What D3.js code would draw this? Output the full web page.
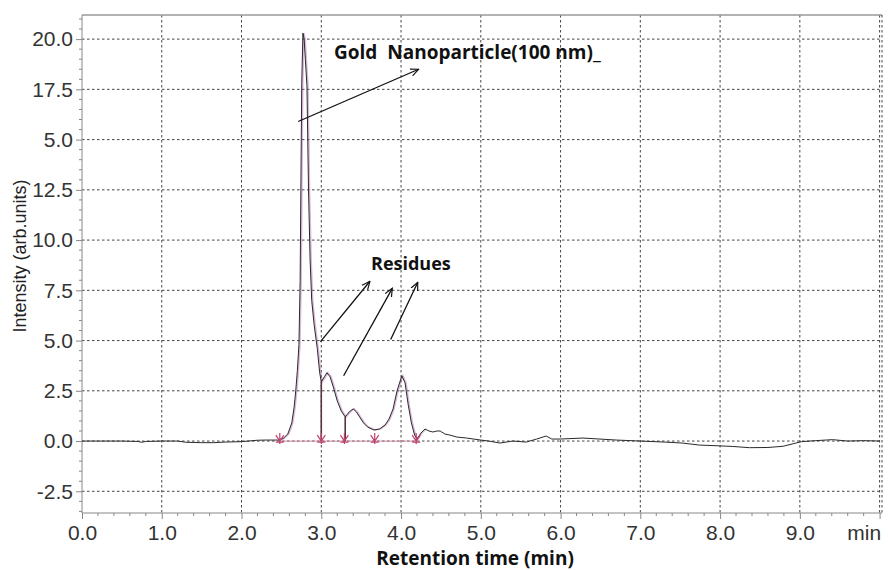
<!DOCTYPE html>
<html><head><meta charset="utf-8">
<script src="https://cdn.jsdelivr.net/npm/d3@7"></script>
<style>
html,body{margin:0;padding:0;background:#fff;}
svg{display:block;}
</style></head>
<body><svg id="c" width="888" height="570"></svg>
<script>
// ---- data ----
const times = [0,0.5,0.7,0.75,0.8,1.0,1.2,1.3,1.5,1.65,1.8,2.0,2.2,2.3,2.45,2.52,2.58,2.63,2.66,2.68,2.70,2.72,2.735,2.745,2.755,2.77,2.785,2.80,2.82,2.84,2.86,2.88,2.91,2.95,2.98,3.0,3.04,3.07,3.11,3.15,3.2,3.25,3.3,3.35,3.40,3.44,3.48,3.53,3.58,3.66,3.73,3.80,3.85,3.90,3.95,4.01,4.05,4.09,4.13,4.17,4.20,4.25,4.30,4.35,4.40,4.45,4.49,4.55,4.61,4.7,4.82,5.0,5.1,5.24,5.4,5.57,5.70,5.82,5.89,6.0,6.28,6.7,7.0,7.3,7.53,7.74,8.0,8.16,8.37,8.6,8.79,9.02,9.2,9.41,9.6,9.8,10.0];
const intensity = [0,0,-0.02,-0.06,-0.02,0,0,-0.06,-0.08,-0.08,-0.05,-0.03,0.04,0.05,0.05,0.12,0.35,0.9,1.7,2.5,3.5,4.8,8,13,17.8,20.3,20.0,19,17.7,12.5,9,7,5.8,4.6,3.4,2.95,3.2,3.4,3.2,2.7,2.0,1.5,1.2,1.45,1.6,1.45,1.2,0.9,0.7,0.55,0.6,0.8,1.1,1.6,2.5,3.25,2.9,1.8,0.9,0.3,0.1,0.4,0.6,0.5,0.45,0.5,0.5,0.35,0.3,0.2,0.15,0.05,0,-0.1,0,-0.05,0.1,0.25,0.1,0.1,0.15,0.05,0,-0.05,-0.1,-0.2,-0.24,-0.27,-0.33,-0.32,-0.26,-0.03,0.02,0.07,0,0.02,0];
const markerTimes = [2.48,3.0,3.29,3.67,4.19];
const dropLines = [3.0,3.3];
const yTicks = [-2.5,0,2.5,5,7.5,10,12.5,15,17.5,20];
const yTickLabels = ["-2.5","0.0","2.5","5.0","7.5","10.0","12.5","5.0","17.5","20.0"];
const xTicks = [0,1,2,3,4,5,6,7,8,9,10];
const xTickLabels = ["0.0","1.0","2.0","3.0","4.0","5.0","6.0","7.0","8.0","9.0","min"];
const xTitle = "Retention time (min)";
const yTitle = "Intensity (arb.units)";
const goldLabel = "Gold  Nanoparticle(100 nm)_";
const residueLabel = "Residues";

// ---- layout ----
const L=82, R=882, T=15, B=513;
const x = d3.scaleLinear().domain([0,10.03]).range([L,R]);
const y = d3.scaleLinear().domain([-3.58,21.2]).range([B,T]);
const svg = d3.select("#c");

// grid
const grid = svg.append("g");
grid.selectAll("line.h").data(yTicks).join("line")
  .attr("x1",L).attr("x2",R).attr("y1",d=>y(d)).attr("y2",d=>y(d))
  .attr("stroke","#444").attr("stroke-width",1).attr("stroke-dasharray","2.5,2.5");
grid.selectAll("line.v").data(xTicks.filter(d=>d>0)).join("line")
  .attr("x1",d=>x(d)).attr("x2",d=>x(d)).attr("y1",T).attr("y2",B)
  .attr("stroke","#444").attr("stroke-width",1).attr("stroke-dasharray","2.5,2.5");
// top border
svg.append("line").attr("x1",L).attr("x2",R).attr("y1",T).attr("y2",T).attr("stroke","#999").attr("stroke-width",1.5);
svg.append("line").attr("x1",R).attr("x2",R).attr("y1",T).attr("y2",B).attr("stroke","#444").attr("stroke-dasharray","2.5,2.5");

// axes
const font = "'Liberation Sans', Arial, sans-serif";
const yAxis = d3.axisLeft(y).tickValues(yTicks).tickFormat((d,i)=>yTickLabels[i]).tickSize(6).tickPadding(3);
const ga = svg.append("g").attr("transform",`translate(${L},0)`).call(yAxis);
ga.select(".domain").attr("stroke","#888").attr("d",`M0,${T}V${B}`);
ga.selectAll(".tick line").attr("stroke","#888");
ga.selectAll("text").attr("font-family",font).attr("font-size",21).attr("fill","#333");
const yMinor = d3.range(-3.5,21.01,0.5).filter(v=>Math.abs(v/2.5-Math.round(v/2.5))>1e-6);
svg.append("g").selectAll("line").data(yMinor).join("line")
  .attr("x1",L-3).attr("x2",L).attr("y1",d=>y(d)).attr("y2",d=>y(d)).attr("stroke","#888");

const xAxis = d3.axisBottom(x).tickValues(xTicks).tickFormat((d,i)=>xTickLabels[i]).tickSize(6).tickPadding(6);
const gb = svg.append("g").attr("transform",`translate(0,${B})`).call(xAxis);
gb.select(".domain").attr("stroke","#888").attr("d",`M${L},0H${R}`);
gb.selectAll(".tick line").attr("stroke","#888");
gb.selectAll("text").attr("font-family",font).attr("font-size",21).attr("fill","#333");
gb.selectAll(".tick").filter(d=>d===10).select("text").attr("text-anchor","end").attr("dx","1");
const xMinor = d3.range(0.2,10.0,0.2).filter(v=>Math.abs(v-Math.round(v))>1e-6);
svg.append("g").selectAll("line").data(xMinor).join("line")
  .attr("x1",d=>x(d)).attr("x2",d=>x(d)).attr("y1",B).attr("y2",B+3).attr("stroke","#888");

// titles
svg.append("text").attr("transform",`translate(26,256) rotate(-90)`).attr("text-anchor","middle")
  .attr("font-family",font).attr("font-size",18).attr("fill","#222").text(yTitle);
const bold = "'Open Sans', 'DejaVu Sans', sans-serif";
svg.append("text").attr("x",475).attr("y",565).attr("text-anchor","middle")
  .attr("font-family",bold).attr("font-weight","bold").attr("font-size",19).attr("fill","#111").text(xTitle);

// data
const data = times.map((t,i)=>({t,v:intensity[i]}));
const line = d3.line().x(d=>x(d.t)).y(d=>y(d.v));
svg.append("path").datum(data.filter(d=>d.t>=2.4&&d.t<=4.3)).attr("d",line)
  .attr("fill","none").attr("stroke","#b060a8").attr("stroke-width",1.6).attr("opacity",0.45)
  .attr("transform","translate(1,0)");
// pink baseline between markers
svg.append("line").attr("x1",x(markerTimes[0])).attr("x2",x(markerTimes[markerTimes.length-1]))
  .attr("y1",y(0)).attr("y2",y(0)).attr("stroke","#d080a0").attr("stroke-width",1.2).attr("opacity",0.7);
svg.append("path").datum(data).attr("d",line).attr("fill","none").attr("stroke","#2a2a2a").attr("stroke-width",1);

// drop lines
const interp = t=>{const i=d3.bisector(d=>d.t).left(data,t);const a=data[Math.max(0,i-1)],b=data[i];if(!a||b.t===a.t)return b.v;return a.v+(b.v-a.v)*(t-a.t)/(b.t-a.t);};
svg.append("g").selectAll("line").data(dropLines).join("line")
  .attr("x1",d=>x(d)).attr("x2",d=>x(d)).attr("y1",d=>y(interp(d))).attr("y2",y(0))
  .attr("stroke","#553344").attr("stroke-width",1.6);
// markers
const mk = svg.append("g").attr("stroke","#c04070").attr("stroke-width",1.2).attr("fill","none");
markerTimes.forEach(t=>{
  const cx=x(t), cy=y(0);
  mk.append("path").attr("d",`M${cx-4},${cy-6}L${cx},${cy}L${cx+4},${cy-6}M${cx-4},${cy+1}L${cx+4},${cy+1}M${cx},${cy-8}V${cy+3}`);
});

// annotations
const defs = svg.append("defs");
defs.append("marker").attr("id","ah").attr("viewBox","0 0 10 10").attr("refX",9).attr("refY",5)
  .attr("markerWidth",9).attr("markerHeight",9).attr("orient","auto-start-reverse").attr("markerUnits","userSpaceOnUse")
  .append("path").attr("d","M0,1L9,5L0,9").attr("fill","none").attr("stroke","#111").attr("stroke-width",1.3);
const arrows = [[2.71,15.9,4.22,18.5],[2.99,4.95,3.61,7.95],[3.28,3.25,3.89,7.6],[3.87,5.05,4.21,7.9]];
svg.append("g").selectAll("line").data(arrows).join("line")
  .attr("x1",d=>x(d[0])).attr("y1",d=>y(d[1])).attr("x2",d=>x(d[2])).attr("y2",d=>y(d[3]))
  .attr("stroke","#111").attr("stroke-width",1.3).attr("marker-end","url(#ah)");
svg.append("text").attr("x",334).attr("y",59).attr("font-family",bold).attr("font-weight","bold")
  .attr("font-size",19).attr("fill","#111").attr("xml:space","preserve").style("white-space","pre").text(goldLabel);
svg.append("text").attr("x",371).attr("y",270).attr("font-family",bold).attr("font-weight","bold")
  .attr("font-size",18).attr("fill","#111").text(residueLabel);
</script></body></html>
